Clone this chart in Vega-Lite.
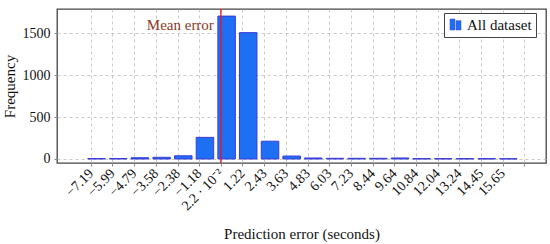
{
  "$schema": "https://vega.github.io/schema/vega-lite/v6.json",
  "width": 489,
  "height": 154,
  "autosize": {"type": "none"},
  "padding": {"left": 57, "top": 9, "right": 4, "bottom": 81},
  "config": {
    "font": "Liberation Serif",
    "view": {"stroke": "#444", "strokeWidth": 1.3},
    "axis": {"gridDash": [3, 3], "gridColor": "#bbb", "gridWidth": 0.8, "domain": false, "tickColor": "#888", "tickSize": 3, "labelColor": "#111", "titleColor": "#111", "titleFontWeight": "normal"}
  },
  "resolve": {"axis": {"x": "independent", "y": "independent"}},
  "data": {
    "values": [
      {"bin": -7.19, "count": 5},
      {"bin": -5.99, "count": 5},
      {"bin": -4.79, "count": 15},
      {"bin": -3.58, "count": 20},
      {"bin": -2.38, "count": 38},
      {"bin": -1.18, "count": 258},
      {"bin": 0.022, "count": 1705},
      {"bin": 1.22, "count": 1508},
      {"bin": 2.43, "count": 212},
      {"bin": 3.63, "count": 35},
      {"bin": 4.83, "count": 12},
      {"bin": 6.03, "count": 8},
      {"bin": 7.23, "count": 8},
      {"bin": 8.44, "count": 8},
      {"bin": 9.64, "count": 12},
      {"bin": 10.84, "count": 4},
      {"bin": 12.04, "count": 4},
      {"bin": 13.24, "count": 4},
      {"bin": 14.45, "count": 4},
      {"bin": 15.65, "count": 3}
    ]
  },
  "layer": [
    {
      "mark": {"type": "bar", "width": 17.5, "xOffset": 5.75, "stroke": "#3a3ad8", "strokeWidth": 1},
      "encoding": {
        "x": {
          "field": "bin", "type": "quantitative",
          "scale": {"domain": [-8.79, 17.78], "nice": false, "zero": false},
          "axis": {
            "values": [-7.19, -5.99, -4.79, -3.58, -2.38, -1.18, 0.022, 1.22, 2.43, 3.63, 4.83, 6.03, 7.23, 8.44, 9.64, 10.84, 12.04, 13.24, 14.45, 15.65, 16.85],
            "labelExpr": "datum.value > 16 ? '' : (datum.value == 0.022 ? '2.2 · 10⁻²' : replace(format(datum.value, '.2f'), '-', '−'))",
            "labelAngle": -45, "labelAlign": "right", "labelBaseline": "middle",
            "labelFontSize": 14, "labelPadding": 5, "labelOverlap": false, "labelBound": false, "labelFlush": false,
            "title": "Prediction error (seconds)", "titleFontSize": 15, "titlePadding": 14,
            "grid": true
          }
        },
        "y": {
          "field": "count", "type": "quantitative",
          "scale": {"domain": [-48, 1790], "nice": false, "zero": false},
          "axis": {
            "values": [0, 500, 1000, 1500], "format": "d", "labelFontSize": 14, "labelPadding": 4,
            "title": "Frequency", "titleFontSize": 15, "titlePadding": 5, "grid": true
          }
        },
        "color": {
          "datum": "All dataset",
          "scale": {"range": ["#1f6ff5"]},
          "legend": {
            "title": null, "orient": "none", "legendX": 387, "legendY": 4,
            "strokeColor": "#444", "fillColor": "white", "padding": 4,
            "labelFontSize": 15, "labelColor": "#111",
            "symbolType": "M-1,-1H-0.1V1H-1Z M0.1,-0.7H1V1H0.1Z",
            "symbolSize": 120, "symbolStrokeColor": "#3a3ad8", "symbolStrokeWidth": 0.5
          }
        }
      }
    },
    {
      "data": {"values": [{}]},
      "mark": {"type": "rule", "color": "#e8141c", "strokeWidth": 1.3},
      "encoding": {"x": {"datum": 0.022, "type": "quantitative", "axis": null}}
    },
    {
      "data": {"values": [{}]},
      "mark": {"type": "text", "align": "right", "baseline": "middle", "dx": -7, "fontSize": 15, "color": "#8b3a1f"},
      "encoding": {
        "x": {"datum": 0.022, "type": "quantitative", "axis": null},
        "y": {"datum": 1600, "type": "quantitative", "axis": null},
        "text": {"value": "Mean error"}
      }
    }
  ]
}
